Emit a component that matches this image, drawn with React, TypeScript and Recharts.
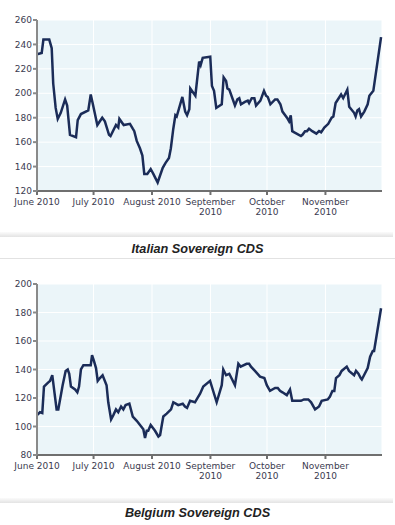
import React from 'react';
import { LineChart, Line, XAxis, YAxis, CartesianGrid } from 'recharts';

// x = days since 1 June 2010
const monthTicks = [0, 30, 61, 92, 122, 153];
const monthLabels = ['June 2010', 'July 2010', 'August 2010', 'September\n2010', 'October\n2010', 'November\n2010'];

const italyTicks = [120, 140, 160, 180, 200, 220, 240, 260];
const belgiumTicks = [80, 100, 120, 140, 160, 180, 200];

const italyDays = [0, 2.5, 3.4, 6.5, 7.8, 8.6, 9.9, 11, 12.6, 14.9, 16, 17.5, 20.7, 21.6, 23.3, 27.2, 28.5, 29.5, 32, 34.6, 36, 38.2, 39, 41.9, 43.1, 43.7, 46, 49.3, 50.8, 51.6, 52.9, 54.6, 55.9, 56.9, 58.5, 60.3, 61.7, 64, 66.7, 68.2, 70, 71, 72.3, 73.4, 74.1, 77.1, 78.6, 79.6, 80.8, 81.3, 84, 86, 86.8, 87.9, 91.9, 92.8, 93.9, 95.1, 98, 99, 100.3, 101, 102, 105, 106.3, 107.3, 108.2, 110.3, 111.8, 112.5, 113.9, 115.3, 116.2, 118.5, 120.4, 121.5, 122.4, 123.8, 126.3, 127.5, 129.1, 130.2, 132.6, 133.7, 134.6, 135.4, 136.5, 140, 140.8, 142.2, 143.2, 144.3, 146, 148.2, 149.6, 150.7, 152.4, 154.5, 156.3, 157.2, 158.4, 161.3, 162.4, 164.6, 165.6, 168.2, 169, 169.9, 170.8, 171.9, 173.6, 175.4, 176.3, 178.4, 182.5];
const italyValues = [232, 233, 244, 244, 237, 208, 188, 179, 184, 195, 190, 166, 164, 178, 183, 186, 199, 192, 174, 180, 177, 166, 165, 174, 172, 179, 174, 175, 171, 169, 161, 155, 149, 134, 134, 138, 134, 127, 139, 143, 147, 155, 171, 182, 181, 197, 185, 182, 187, 204, 198, 226, 223, 229, 230, 206, 202, 188, 191, 213, 210, 204, 203, 190, 195, 196, 191, 193, 194, 192, 196, 196, 190, 194, 202, 198, 197, 191, 195, 195, 191, 185, 180, 177, 182, 169, 168, 165, 166, 169, 169, 171, 169, 167, 169, 168, 172, 175, 180, 181, 192, 199, 196, 203, 189, 184, 181, 186, 187, 181, 185, 191, 198, 202, 246];

const belgiumDays = [0, 1.6, 2.8, 3.7, 6, 6.9, 8.1, 10.4, 11.3, 13.6, 15.2, 16.3, 17.1, 18, 20.2, 21.4, 22.3, 23.3, 24.6, 27.2, 28.5, 29.2, 30.2, 31.3, 32.2, 33.4, 34.8, 36.9, 37.8, 39.3, 40.5, 41.9, 43.1, 44.6, 45.8, 47, 49, 50.8, 52.9, 56.4, 57.3, 58.2, 59, 60.3, 62.6, 64.4, 65.3, 66.2, 67, 68.8, 71.1, 72.3, 73.6, 74.9, 77.3, 78.5, 79.6, 81.2, 83.8, 84.7, 86.5, 88.2, 91.8, 95.3, 98, 98.8, 100.3, 102, 105, 106.8, 108, 111.2, 112.5, 113.5, 115.6, 118.3, 120.6, 121.9, 123.6, 126.3, 127.7, 128.9, 130.2, 132.5, 134.2, 135.4, 136.9, 140, 141.6, 143.9, 145.4, 147.5, 149.6, 151, 154.2, 155.4, 156.7, 157.7, 158.6, 160.4, 161.6, 164.3, 165.5, 168.2, 169.2, 170.5, 171.7, 172.3, 175.4, 176.7, 178.1, 178.8, 182.5];
const belgiumValues = [108, 110, 109.5, 128, 131, 132, 136, 112, 112, 129, 139, 140, 137, 128, 126, 124, 128, 140, 143, 143, 143, 150, 146, 141, 132, 134, 136, 129, 117, 105, 108, 112, 110, 114, 112, 115, 116, 107, 104, 98, 92, 97, 97, 101, 97, 93, 94, 101, 107, 109, 112, 117, 116, 115, 116, 114, 113, 118, 117, 119, 123, 128, 132, 117, 129, 140, 136, 137, 129, 144, 142, 144, 144, 142, 139, 135, 134, 129, 125, 127, 127, 125, 124, 122, 126, 118, 118, 118, 119, 119, 117, 112, 114, 118, 119, 121, 125, 125, 134, 136, 139, 142, 139, 136, 139, 137, 134, 133, 141, 149, 153, 153, 183];

const FONT = '"DejaVu Sans", Verdana, sans-serif';
const TEXT = '#3b3b4f';

const toRows = (days: number[], values: number[]) => days.map((d, i) => ({ day: d, v: values[i] }));

const MonthTick = (props: any) => {
  const { x, y, payload } = props;
  const label = monthLabels[monthTicks.indexOf(payload.value)] || '';
  const lines = label.split('\n');
  return (
    <text x={x} y={y} textAnchor="middle" fontSize={9} fontFamily={FONT} fill={TEXT}>
      {lines.map((l, i) => (
        <tspan key={i} x={x} dy={i === 0 ? 8 : 10}>{l}</tspan>
      ))}
    </text>
  );
};

const CdsChart = ({ rows, ticks }: { rows: { day: number; v: number }[]; ticks: number[] }) => (
  <LineChart width={395} height={224} data={rows} margin={{ top: 20, right: 13, bottom: 9, left: 0 }}>
    <CartesianGrid fill="#ebf5f9" stroke="#ffffff" strokeWidth={1} fillOpacity={1} />
    <XAxis
      dataKey="day"
      type="number"
      domain={[0, 183]}
      ticks={monthTicks}
      height={24}
      tick={<MonthTick />}
      tickSize={4}
      stroke="#6f6f6f"
      strokeWidth={2}
      interval={0}
    />
    <YAxis
      type="number"
      domain={[ticks[0], ticks[ticks.length - 1]]}
      ticks={ticks}
      width={37}
      tickSize={4}
      tickMargin={1}
      stroke="#8a8a8a"
      strokeWidth={2}
      tick={{ fontSize: 9, fontFamily: FONT, fill: TEXT }}
      interval={0}
    />
    <Line
      type="linear"
      dataKey="v"
      stroke="#1b2c58"
      strokeWidth={2.5}
      dot={false}
      isAnimationActive={false}
    />
  </LineChart>
);

const Title = ({ text, top }: { text: string; top: number }) => (
  <div
    style={{
      position: 'absolute',
      top,
      left: 0,
      width: 395,
      textAlign: 'center',
      fontFamily: '"Liberation Sans", Arial, sans-serif',
      fontWeight: 'bold',
      fontStyle: 'italic',
      fontSize: 12.7,
      color: '#222',
      lineHeight: '14px',
    }}
  >
    {text}
  </div>
);

const Band = ({ top }: { top: number }) => (
  <div
    style={{
      position: 'absolute',
      top,
      left: 0,
      width: 393,
      height: 5,
      background: 'linear-gradient(to bottom, #fbfbfb, #e3e3e3)',
    }}
  />
);

export default function App() {
  return (
    <div style={{ position: 'absolute', left: 0, top: 0, width: 395, height: 525, background: '#fff', overflow: 'hidden' }}>
      <div style={{ position: 'absolute', left: 0, top: 0 }}>
        <CdsChart rows={toRows(italyDays, italyValues)} ticks={italyTicks} />
      </div>
      <Band top={232} />
      <Title text="Italian Sovereign CDS" top={242} />
      <div style={{ position: 'absolute', left: 0, top: 258, width: 395, height: 1, background: '#e2e2e2' }} />
      <div style={{ position: 'absolute', left: 0, top: 264 }}>
        <CdsChart rows={toRows(belgiumDays, belgiumValues)} ticks={belgiumTicks} />
      </div>
      <Band top={498} />
      <Title text="Belgium Sovereign CDS" top={506} />
    </div>
  );
}
